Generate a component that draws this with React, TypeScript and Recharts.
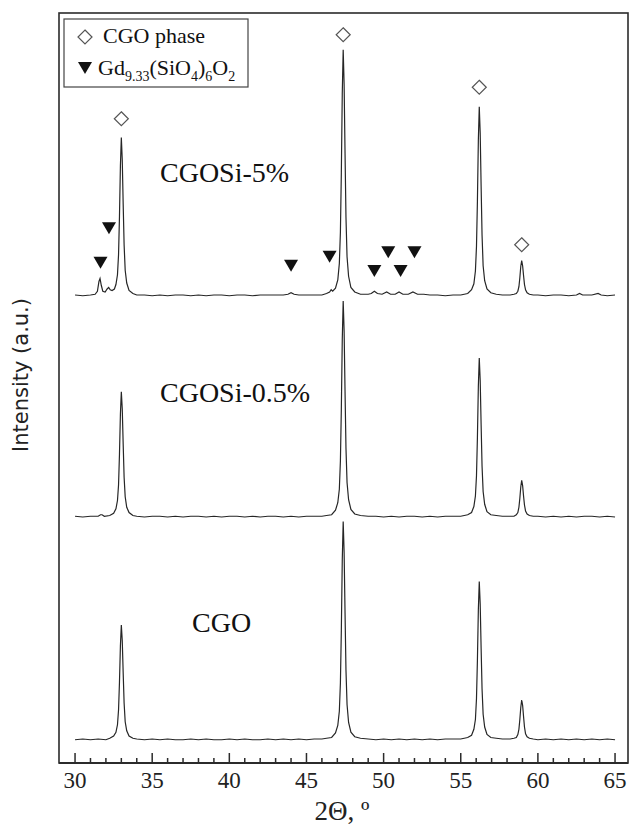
import { ComposedChart, Line, Scatter, XAxis, YAxis } from "recharts";

// 2θ / intensity pairs, intensity counted from each pattern's own baseline
const cgoPattern: [number, number][] = [
  [30, 0], [30.5, 1], [31, 0], [31.5, 1], [32, 0], [32.25, 2], [32.5, 5], [32.65, 10],
  [32.75, 20], [32.82, 40], [32.88, 77], [32.94, 125], [33.0, 153], [33.06, 132], [33.12, 89],
  [33.18, 49], [33.25, 24], [33.35, 12], [33.5, 5], [33.75, 2], [34, 1], [34.5, 0], [35, 1],
  [35.5, 0], [36, 1], [36.5, 0], [37, 0], [37.5, 1], [38, 0], [38.5, 1], [39, 0], [39.5, 0],
  [40, 1], [40.5, 0], [41, 1], [41.5, 0], [42, 0], [42.5, 1], [43, 0], [43.5, 1], [44, 0],
  [44.5, 1], [45, 0], [45.5, 1], [46, 1], [46.3, 2], [46.63, 3], [46.88, 9], [47.03, 19],
  [47.13, 38], [47.2, 76], [47.26, 146], [47.32, 239], [47.38, 291], [47.44, 250], [47.5, 169],
  [47.56, 93], [47.63, 47], [47.73, 23], [47.88, 10], [48.13, 4], [48.5, 2], [49, 1], [49.5, 0],
  [50, 1], [50.5, 0], [51, 1], [51.5, 0], [52, 1], [52.5, 0], [53, 1], [53.5, 0], [54, 1],
  [54.5, 1], [55, 1], [55.45, 3], [55.7, 6], [55.85, 14], [55.95, 27], [56.02, 55], [56.08, 106],
  [56.14, 173], [56.2, 211], [56.26, 181], [56.32, 122], [56.38, 68], [56.45, 34], [56.55, 17],
  [56.7, 7], [56.95, 3], [57.3, 2], [57.7, 1], [58.2, 1], [58.45, 2], [58.6, 3], [58.7, 7],
  [58.77, 14], [58.83, 27], [58.89, 43], [58.95, 53], [59.01, 46], [59.07, 31], [59.13, 17],
  [59.2, 8], [59.3, 4], [59.45, 2], [59.7, 1], [60, 0], [60.5, 1], [61, 0], [61.5, 1], [62, 0],
  [62.5, 1], [63, 0], [63.5, 1], [64, 0], [64.5, 1], [65, 0],
];

const cgoSi05Pattern: [number, number][] = [
  [30, 1], [30.5, 0], [31, 1], [31.5, 1], [31.65, 3], [31.75, 3], [31.9, 1], [32.25, 2],
  [32.5, 5], [32.65, 11], [32.75, 22], [32.82, 43], [32.88, 84], [32.94, 137], [33.0, 167],
  [33.06, 144], [33.12, 97], [33.18, 53], [33.25, 27], [33.35, 13], [33.5, 6], [33.75, 2],
  [34, 1], [34.5, 0], [35, 1], [35.5, 1], [36, 0], [36.5, 1], [37, 0], [37.5, 1], [38, 1],
  [38.5, 0], [39, 1], [39.5, 0], [40, 1], [40.5, 1], [41, 0], [41.5, 1], [42, 0], [42.5, 1],
  [43, 1], [43.5, 0], [44, 1], [44.5, 0], [45, 1], [45.5, 1], [46, 1], [46.3, 2], [46.63, 3],
  [46.88, 9], [47.03, 19], [47.13, 37], [47.2, 75], [47.26, 144], [47.32, 236], [47.38, 288],
  [47.44, 248], [47.5, 167], [47.56, 92], [47.63, 46], [47.73, 23], [47.88, 10], [48.13, 4],
  [48.5, 2], [49, 1], [49.5, 1], [50, 0], [50.5, 1], [51, 0], [51.5, 1], [52, 1], [52.5, 0],
  [53, 1], [53.5, 0], [54, 1], [54.5, 1], [55, 1], [55.45, 3], [55.7, 6], [55.85, 14],
  [55.95, 28], [56.02, 55], [56.08, 106], [56.14, 174], [56.2, 212], [56.26, 182], [56.32, 123],
  [56.38, 68], [56.45, 34], [56.55, 17], [56.7, 7], [56.95, 3], [57.3, 2], [57.7, 1], [58.2, 1],
  [58.45, 1], [58.6, 3], [58.7, 6], [58.77, 13], [58.83, 25], [58.89, 40], [58.95, 49],
  [59.01, 42], [59.07, 28], [59.13, 16], [59.2, 8], [59.3, 4], [59.45, 2], [59.7, 1], [60, 1],
  [60.5, 0], [61, 1], [61.5, 0], [62, 1], [62.5, 0], [63, 1], [63.5, 1], [64, 0], [64.5, 1],
  [65, 0],
];

const cgoSi5Pattern: [number, number][] = [
  [30, 1], [30.5, 0], [31, 1], [31.3, 2], [31.45, 6], [31.55, 19], [31.62, 23], [31.7, 14],
  [31.8, 6], [31.95, 5], [32.08, 9], [32.18, 11], [32.28, 8], [32.4, 7], [32.55, 9], [32.65, 15],
  [32.75, 28], [32.82, 55], [32.88, 106], [32.94, 173], [33.0, 211], [33.06, 181], [33.12, 122],
  [33.18, 68], [33.25, 34], [33.35, 17], [33.5, 7], [33.75, 3], [34, 1], [34.5, 1], [35, 0],
  [35.5, 1], [36, 0], [36.5, 1], [37, 1], [37.5, 0], [38, 1], [38.5, 0], [39, 1], [39.5, 1],
  [40, 0], [40.5, 1], [41, 1], [41.5, 0], [42, 1], [42.5, 1], [43, 1], [43.5, 1], [43.8, 2],
  [44.0, 4], [44.2, 2], [44.5, 1], [45, 1], [45.5, 1], [46, 1], [46.3, 3], [46.5, 5], [46.6, 8],
  [46.7, 6], [46.88, 10], [47.03, 21], [47.13, 43], [47.2, 85], [47.26, 164], [47.32, 269],
  [47.38, 328], [47.44, 282], [47.5, 190], [47.56, 105], [47.63, 52], [47.73, 26], [47.88, 11],
  [48.13, 5], [48.5, 2], [49, 2], [49.2, 3], [49.4, 6], [49.6, 3], [49.9, 2], [50.2, 5],
  [50.45, 2], [50.75, 2], [51.0, 5], [51.25, 2], [51.6, 2], [51.9, 5], [52.2, 2], [52.6, 2],
  [53, 1], [53.5, 1], [54, 0], [54.5, 1], [55, 1], [55.45, 3], [55.7, 8], [55.85, 16],
  [55.95, 33], [56.02, 66], [56.08, 126], [56.14, 207], [56.2, 252], [56.26, 217], [56.32, 146],
  [56.38, 81], [56.45, 40], [56.55, 20], [56.7, 9], [56.95, 4], [57.3, 2], [57.7, 1], [58.2, 1],
  [58.45, 2], [58.6, 3], [58.7, 6], [58.77, 12], [58.83, 24], [58.89, 39], [58.95, 47],
  [59.01, 40], [59.07, 27], [59.13, 15], [59.2, 8], [59.3, 4], [59.45, 2], [59.7, 1], [60, 1],
  [60.5, 0], [61, 1], [61.5, 1], [62, 0], [62.5, 1], [62.7, 3], [62.9, 1], [63.5, 1], [63.9, 3],
  [64.1, 1], [64.5, 0], [65, 1],
];

// vertical stacking of the three patterns
const patternOffsets = [31, 328, 623];

// phase markers (2θ, height on the stacked scale)
const cgoPhaseMarks: [number, number][] = [
  [33.0, 859], [47.38, 971], [56.2, 901], [58.95, 691],
];
const silicatePhaseMarks: [number, number][] = [
  [31.65, 667], [32.2, 713], [44.0, 663], [46.5, 675], [49.4, 656], [50.3, 681], [51.1, 656],
  [52.0, 681],
];

const thetaTicks = [
  30, 31, 32, 33, 34, 35, 36, 37, 38, 39, 40, 41, 42, 43, 44, 45, 46, 47, 48, 49, 50, 51, 52,
  53, 54, 55, 56, 57, 58, 59, 60, 61, 62, 63, 64, 65,
];
const labelledTicks = [30, 35, 40, 45, 50, 55, 60, 65];

const serif = "'Liberation Serif', 'Times New Roman', serif";
const ink = "#2b2b2b";

const toPoints = (pattern: [number, number][], offset: number) =>
  pattern.map(([x, y]) => ({ x, y: y + offset }));

const toMarks = (marks: [number, number][]) => marks.map(([x, y]) => ({ x, y }));

const Diamond = (props: any) => {
  const { cx, cy } = props;
  return (
    <polygon
      points={`${cx},${cy - 7} ${cx + 7},${cy} ${cx},${cy + 7} ${cx - 7},${cy}`}
      fill="#fff"
      stroke="#555"
      strokeWidth={1.2}
    />
  );
};

const Triangle = (props: any) => {
  const { cx, cy } = props;
  return (
    <polygon
      points={`${cx - 7},${cy - 6} ${cx + 7},${cy - 6} ${cx},${cy + 6}`}
      fill="#111"
    />
  );
};

const ThetaTick = (props: any) => {
  const { x, y, payload } = props;
  const major = labelledTicks.includes(payload.value);
  return (
    <g>
      <line x1={x} x2={x} y1={y} y2={y - (major ? 10 : 5)} stroke={ink} strokeWidth={1.5} />
      {major && (
        <text x={x} y={y + 25} textAnchor="middle" fontFamily={serif} fontSize={23} fill="#222">
          {payload.value}
        </text>
      )}
    </g>
  );
};

export default function App() {
  const lines = [cgoPattern, cgoSi05Pattern, cgoSi5Pattern];

  return (
    <div>
      <style>{`body{margin:0}`}</style>
      <ComposedChart
        width={630}
        height={825}
        margin={{ top: 13, right: 2, left: 59, bottom: 0 }}
      >
        <XAxis
          dataKey="x"
          type="number"
          domain={[28.96, 65.84]}
          ticks={thetaTicks}
          interval={0}
          height={62}
          tickSize={0}
          tickMargin={0}
          tick={<ThetaTick />}
          axisLine={{ stroke: ink, strokeWidth: 2 }}
          allowDataOverflow
        />
        <YAxis type="number" domain={[0, 1000]} hide allowDataOverflow />

        {lines.map((pattern, i) => (
          <Line
            key={i}
            data={toPoints(pattern, patternOffsets[i])}
            dataKey="y"
            type="linear"
            stroke="#262626"
            strokeWidth={1.2}
            dot={false}
            isAnimationActive={false}
          />
        ))}

        <Scatter data={toMarks(cgoPhaseMarks)} dataKey="y" shape={<Diamond />} isAnimationActive={false} />
        <Scatter data={toMarks(silicatePhaseMarks)} dataKey="y" shape={<Triangle />} isAnimationActive={false} />

        {/* frame */}
        <rect x={59} y={13} width={569} height={750} fill="none" stroke={ink} strokeWidth={1.6} />

        {/* legend */}
        <rect x={64} y={19} width={184} height={68} fill="#fff" stroke="#444" strokeWidth={1.2} />
        <Diamond cx={85} cy={37} />
        <text x={103} y={43} fontFamily={serif} fontSize={22} fill="#111">CGO phase</text>
        <Triangle cx={85} cy={68} />
        <text x={98} y={75} fontFamily={serif} fontSize={22} fill="#111">
          Gd
          <tspan fontSize={14} dy={6}>9.33</tspan>
          <tspan dy={-6}>(SiO</tspan>
          <tspan fontSize={14} dy={6}>4</tspan>
          <tspan dy={-6}>)</tspan>
          <tspan fontSize={14} dy={6}>6</tspan>
          <tspan dy={-6}>O</tspan>
          <tspan fontSize={14} dy={6}>2</tspan>
        </text>

        {/* pattern labels */}
        <text x={160} y={182} fontFamily={serif} fontSize={28} fill="#111">CGOSi-5%</text>
        <text x={160} y={402} fontFamily={serif} fontSize={28} fill="#111">CGOSi-0.5%</text>
        <text x={192} y={632} fontFamily={serif} fontSize={28} fill="#111">CGO</text>

        {/* axis titles */}
        <text
          x={21}
          y={375}
          transform="rotate(-90 21 375)"
          textAnchor="middle"
          dominantBaseline="central"
          fontFamily="'DejaVu Sans', sans-serif"
          fontSize={21}
          fill="#222"
        >
          Intensity (a.u.)
        </text>
        <text x={342} y={820} textAnchor="middle" fontFamily={serif} fontSize={27} fill="#222">
          2Θ, º
        </text>
      </ComposedChart>
    </div>
  );
}
